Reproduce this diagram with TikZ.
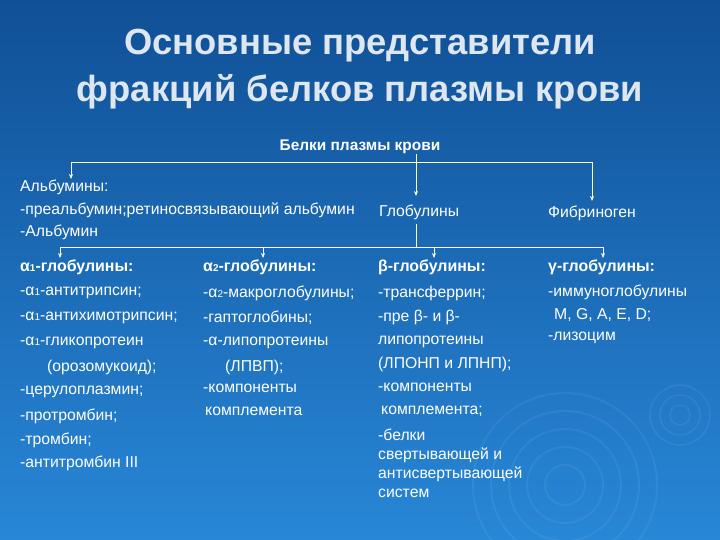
\documentclass[tikz,border=0pt]{standalone}
\usepackage{fontspec}
\usetikzlibrary{arrows.meta}
\setmainfont{Liberation Sans}
\begin{document}
\begin{tikzpicture}[x=1bp,y=-1bp,
  t/.style={anchor=west,inner sep=0,text=white,font=\fontsize{15.8}{17}\selectfont},
  h/.style={t,font=\fontsize{16}{18}\selectfont\bfseries},
  ln/.style={draw=white,line width=0.9bp},
  ar/.style={ln,-{Stealth[length=5bp,width=4bp]}}]
\shade[top color={rgb,255:red,16;green,80;blue,150},bottom color={rgb,255:red,40;green,135;blue,215}] (0,0) rectangle (720,540);
\useasboundingbox (0,0) rectangle (720,540);
\foreach \r in {20,38,56,74,92} \draw[white,opacity=0.06,line width=2bp] (565,485) circle (\r);
\foreach \r in {10,20,30} \draw[white,opacity=0.07,line width=1.5bp] (680,415) circle (\r);
\node[text={rgb,255:red,222;green,230;blue,240},font=\fontsize{36.5}{47}\selectfont\bfseries,align=center] (title) at (360,69) {Основные представители\\фракций белков плазмы крови};
\node[t,anchor=center,font=\fontsize{15.5}{17}\selectfont\bfseries] (root) at (360,147) {Белки плазмы крови};
\coordinate (b1) at (416,162);
\coordinate (bl) at (71,162);
\coordinate (br) at (592,162);
\draw[ln] (root.south -| b1) -- (b1);
\draw[ln] (bl) -- (br);
\node[t] (alb) at (20,187) {Альбумины:};
\node[t] (alb2) at (20,210) {-преальбумин;ретиносвязывающий альбумин};
\node[t] (alb3) at (20,232) {-Альбумин};
\node[t] (glob) at (379,212) {Глобулины};
\node[t] (fib) at (548,213) {Фибриноген};
\draw[ar] (bl) -- (71,179);
\draw[ar] (b1) -- (416,196);
\draw[ar] (br) -- (592,201);
\coordinate (g1) at (60,247);
\coordinate (g2) at (263,247);
\coordinate (g3) at (434,247);
\coordinate (g4) at (603,247);
\draw[ln] (416,224) -- (416,247);
\draw[ln] (g1) -- (g4);
\foreach \c in {g1,g2,g3,g4} \draw[ar] (\c) -- ++(0,11);
\newcommand{\sub}[1]{{\fontsize{10}{11}\selectfont #1}}
\node[h] (c1) at (20,267) {α\sub{1}-глобулины:};
\node[h] (c2) at (203,267) {α\sub{2}-глобулины:};
\node[h] (c3) at (378,267) {β-глобулины:};
\node[h] (c4) at (548,267) {γ-глобулины:};
% col1
\node[t] (a1) at (20,293) {-α\sub{1}-антитрипсин;};
\node[t] (a2) at (20,318) {-α\sub{1}-антихимотрипсин;};
\node[t] (a3) at (20,343) {-α\sub{1}-гликопротеин};
\node[t] (a4) at (47,367) {(орозомукоид);};
\node[t] (a5) at (20,392) {-церулоплазмин;};
\node[t] (a6) at (20,416) {-протромбин;};
\node[t] (a7) at (20,440) {-тромбин;};
\node[t] (a8) at (20,463) {-антитромбин III};
% col2
\node[t] (b1n) at (203,293) {-α\sub{2}-макроглобулины;};
\node[t] (b2n) at (203,318) {-гаптоглобины;};
\node[t] (b3n) at (203,343) {-α-липопротеины};
\node[t] (b4n) at (225,367) {(ЛПВП);};
\node[t] (b5n) at (203,388) {-компоненты};
\node[t] (b6n) at (205,411) {комплемента};
% col3
\node[t] (d1) at (378,293) {-трансферрин;};
\node[t] (d2) at (378,317) {-пре β- и β-};
\node[t] (d3) at (378,342) {липопротеины};
\node[t] (d4) at (378,364) {(ЛПОНП и ЛПНП);};
\node[t] (d5) at (378,387) {-компоненты};
\node[t] (d6) at (381,411) {комплемента;};
\node[t] (d7) at (378,435) {-белки};
\node[t] (d8) at (378,455) {свертывающей и};
\node[t] (d9) at (378,474) {антисвертывающей};
\node[t] (d10) at (378,493) {систем};
% col4
\node[t] (e1) at (548,292) {-иммуноглобулины};
\node[t] (e2) at (554,315) {M, G, A, E, D;};
\node[t] (e3) at (548,338) {-лизоцим};
\end{tikzpicture}
\end{document}
